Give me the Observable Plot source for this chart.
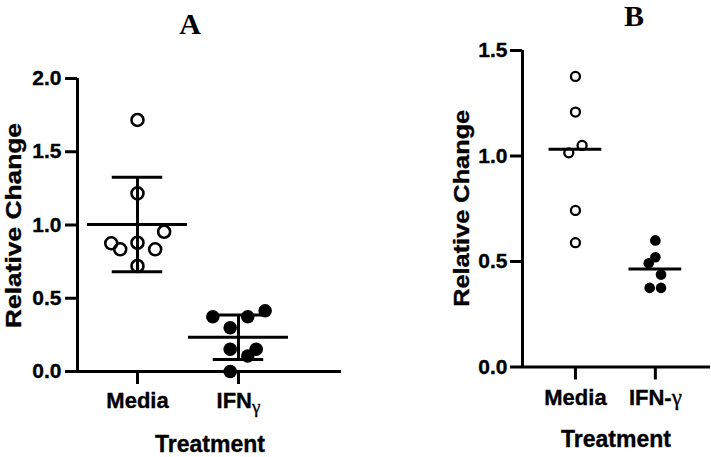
<!DOCTYPE html>
<html>
<head>
<meta charset="utf-8">
<script src="https://cdn.jsdelivr.net/npm/d3@7"></script>
<script src="https://cdn.jsdelivr.net/npm/@observablehq/plot@0.6"></script>
<style>
  html, body { margin: 0; padding: 0; background: #fff; }
  #root { position: relative; width: 711px; height: 457px; background: #fff; overflow: hidden; }
  .panel { position: absolute; top: 0; }
  .panel svg text { stroke: black; stroke-width: 0.35px; }
</style>
</head>
<body>
<div id="root">
  <div id="pa" class="panel" style="left:0px"></div>
  <div id="pb" class="panel" style="left:360px"></div>
</div>
<script>
// ---- Data ----
const catsA = ["Media", "IFNγ"];
const catsB = ["Media", "IFN-γ"];
const ticksA = [0, 0.5, 1, 1.5, 2];
const ticksB = [0, 0.5, 1, 1.5];

const mediaA = [1.717, 1.216, 0.954, 0.875, 0.879, 0.834, 0.834, 0.720];
const mediaAJitter = [0, 0, 0.264, -0.26, 0, -0.171, 0.175, 0];
const ifnA = [0.374, 0.374, 0.415, 0.299, 0.152, 0.152, 0.106, 0.0];
const ifnAJitter = [-0.254, 0.092, 0.264, -0.082, -0.082, 0.175, 0.092, -0.082];

const mediaB = [1.377, 1.208, 1.050, 1.015, 0.742, 0.589];
const mediaBJitter = [0, 0, 0.083, -0.083, 0, 0];
const ifnB = [0.600, 0.520, 0.492, 0.438, 0.375, 0.375];
const ifnBJitter = [0, 0, -0.083, 0.071, -0.071, 0.071];

const SANS = "'Liberation Sans', Arial, Helvetica, sans-serif";
const SERIF = "'Liberation Serif', 'Times New Roman', serif";

function points(values, jitter, pos, filled) {
  return values.map((v, i) => ({ x: pos + jitter[i], y: v, filled }));
}

function buildPanel(cfg) {
  const data = [
    ...points(cfg.media, cfg.mediaJ, 1, false),
    ...points(cfg.ifn, cfg.ifnJ, 2, true)
  ];
  const groups = [
    { pos: 1, vals: cfg.media },
    { pos: 2, vals: cfg.ifn }
  ].map(g => ({
    pos: g.pos,
    mean: d3.mean(g.vals),
    median: d3.median(g.vals),
    sd: d3.deviation(g.vals)
  }));

  const [x0, x1] = cfg.xDomain;
  const yMax = cfg.yDomain[1];
  const marks = [
    Plot.ruleX([x0], { y1: 0, y2: yMax, stroke: "black", strokeWidth: 3 }),
    Plot.ruleY([0], { x1: x0, x2: x1, stroke: "black", strokeWidth: 3 }),
    Plot.axisY({
      ticks: cfg.yTicks, tickFormat: d3.format(".1f"), tickSize: 12,
      tickPadding: cfg.yPad, strokeWidth: 3, fontSize: 21, fontWeight: "bold",
      label: null
    }),
    Plot.axisX({
      ticks: [1, 2], tickFormat: d => cfg.cats[d - 1], tickSize: 13,
      tickPadding: cfg.xPad, strokeWidth: 3, fontSize: 22, fontWeight: "bold",
      label: null
    })
  ];
  if (cfg.stat === "meanSD") {
    marks.push(
      Plot.ruleY(groups, { y: "mean", x1: d => d.pos - 0.495, x2: d => d.pos + 0.495, stroke: "black", strokeWidth: 3 }),
      Plot.ruleY(groups, { y: d => d.mean + d.sd, x1: d => d.pos - 0.25, x2: d => d.pos + 0.25, stroke: "black", strokeWidth: 3 }),
      Plot.ruleY(groups, { y: d => d.mean - d.sd, x1: d => d.pos - 0.25, x2: d => d.pos + 0.25, stroke: "black", strokeWidth: 3 }),
      Plot.ruleX(groups, { x: "pos", y1: d => d.mean - d.sd, y2: d => d.mean + d.sd, stroke: "black", strokeWidth: 3 })
    );
  } else {
    marks.push(
      Plot.ruleY(groups, { y: "median", x1: d => d.pos - 0.33, x2: d => d.pos + 0.33, stroke: "black", strokeWidth: 3 })
    );
  }
  marks.push(
    Plot.dot(data.filter(d => !d.filled), { x: "x", y: "y", r: cfg.r, stroke: "black", strokeWidth: cfg.sw, fill: "none" }),
    Plot.dot(data.filter(d => d.filled), { x: "x", y: "y", r: cfg.r + 0.8, fill: "black", stroke: "none" })
  );

  const svg = Plot.plot({
    width: cfg.width,
    height: 457,
    marginLeft: cfg.ml,
    marginRight: cfg.mr,
    marginTop: cfg.mt,
    marginBottom: cfg.mb,
    style: { background: "white", color: "black", fontFamily: SANS, fontWeight: "bold", overflow: "visible" },
    x: { domain: cfg.xDomain, axis: null },
    y: { domain: cfg.yDomain, axis: null },
    marks
  });

  const s = d3.select(svg);
  // gamma styling in tick labels
  s.selectAll("text").each(function () {
    const t = this.textContent;
    if (t.includes("γ") && this.children.length === 0) {
      const base = t.replace("γ", "");
      const el = d3.select(this);
      el.text(null);
      el.append("tspan").text(base);
      const g = el.append("tspan").text("γ")
        .attr("font-family", SERIF).attr("font-weight", "normal");
      if (cfg.gammaSub) g.attr("font-size", 19).attr("dy", "0.25em");
      else g.attr("font-size", 23);
    }
  });
  // panel title
  s.append("text").text(cfg.title)
    .attr("x", cfg.titleX).attr("y", cfg.titleY)
    .attr("text-anchor", "middle")
    .attr("font-family", SERIF).attr("font-weight", "bold").attr("font-size", 30)
    .attr("fill", "black").style("stroke-width", "0px");
  // y label
  s.append("text").text("Relative Change")
    .attr("transform", `translate(${cfg.yLabX},${cfg.yLabY}) rotate(-90)`)
    .attr("text-anchor", "middle")
    .attr("font-family", SANS).attr("font-weight", "bold").attr("font-size", 22)
    .attr("textLength", cfg.yLabLen).attr("lengthAdjust", "spacingAndGlyphs")
    .attr("fill", "black");
  // x label
  s.append("text").text("Treatment")
    .attr("x", cfg.xLabX).attr("y", cfg.xLabY)
    .attr("text-anchor", "middle")
    .attr("font-family", SANS).attr("font-weight", "bold").attr("font-size", 23)
    .attr("fill", "black");
  return svg;
}

document.getElementById("pa").appendChild(buildPanel({
  cats: catsA, media: mediaA, mediaJ: mediaAJitter, ifn: ifnA, ifnJ: ifnAJitter,
  width: 360, ml: 77, mr: 19, mt: 78, mb: 86,
  xDomain: [0.406, 3.02], yDomain: [0, 2], yTicks: ticksA,
  yPad: 4, xPad: 8, stat: "meanSD", r: 6, sw: 2.6, gammaSub: true,
  title: "A", titleX: 190, titleY: 34,
  yLabX: 20.5, yLabY: 225.5, yLabLen: 205,
  xLabX: 210, xLabY: 452
}));

document.getElementById("pb").appendChild(buildPanel({
  cats: catsB, media: mediaB, mediaJ: mediaBJitter, ifn: ifnB, ifnJ: ifnBJitter,
  width: 351, ml: 162, mr: 1, mt: 50, mb: 90.5,
  xDomain: [0.3375, 2.69], yDomain: [0, 1.5], yTicks: ticksB,
  yPad: 3, xPad: 9, stat: "median", r: 4.5, sw: 2.3, gammaSub: false,
  title: "B", titleX: 274, titleY: 26,
  yLabX: 468.5 - 360, yLabY: 208.3, yLabLen: 197,
  xLabX: 256, xLabY: 446.5
}));
</script>
</body>
</html>
